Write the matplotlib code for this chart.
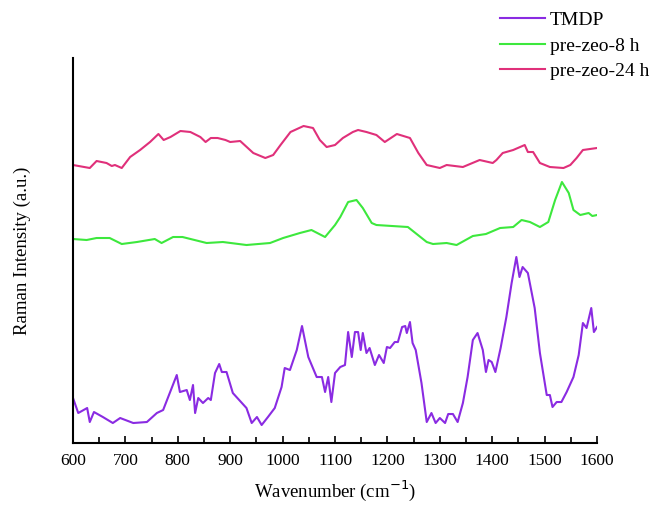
import matplotlib
matplotlib.use("Agg")
import numpy as np
from matplotlib import pyplot as plt
from matplotlib.ticker import MultipleLocator

# wavenumber (cm-1) / intensity (a.u.)
tmdp_x = [600, 610, 627, 632, 640, 657, 676, 690, 715, 741, 760, 772, 798, 804, 817,
          823, 829, 833, 839, 848, 858, 863, 871, 879, 884, 893, 905, 931, 941, 951,
          960, 972, 985, 998, 1004, 1014, 1027, 1037, 1049, 1065, 1075, 1081, 1087,
          1093, 1100, 1110, 1119, 1125, 1132, 1138, 1144, 1149, 1153, 1160, 1166,
          1176, 1184, 1193, 1199, 1205, 1214, 1220, 1228, 1234, 1237, 1243, 1248,
          1254, 1265, 1275, 1284, 1292, 1300, 1310, 1316, 1325, 1334, 1344, 1353,
          1363, 1372, 1382, 1388, 1393, 1399, 1406, 1416, 1427, 1437, 1446, 1452,
          1458, 1468, 1481, 1491, 1504, 1510, 1515, 1523, 1532, 1542, 1555, 1565,
          1573, 1580, 1589, 1594, 1600]
tmdp_y = [45, 30, 35, 21, 31, 26, 20, 25, 20, 21, 30, 33, 68, 51, 53,
          43, 58, 30, 45, 40, 45, 43, 70, 79, 71, 71, 50, 35, 20, 26,
          18, 26, 35, 56, 75, 73, 93, 117, 86, 66, 66, 51, 66,
          41, 70, 76, 78, 111, 86, 111, 111, 93, 110, 90, 95,
          78, 88, 80, 96, 95, 101, 101, 116, 117, 110, 121, 100,
          93, 60, 21, 30, 20, 25, 20, 29, 29, 21, 40, 66,
          103, 110, 93, 71, 83, 81, 71, 95, 126, 160, 186, 166,
          176, 170, 135, 90, 48, 48, 36, 41, 41, 51, 66, 88,
          120, 115, 135, 111, 116]

pz8_x = [600, 626, 645, 670, 693, 722, 756, 769, 791, 809, 855, 886, 931, 976, 1001,
         1033, 1055, 1081, 1100, 1110, 1125, 1141, 1153, 1170, 1179, 1239, 1275,
         1287, 1313, 1332, 1363, 1388, 1415, 1440, 1456, 1472, 1491, 1507, 1520,
         1533, 1546, 1555, 1568, 1584, 1591, 1600]
pz8_y = [204, 203, 205, 205, 199, 201, 204, 200, 206, 206, 200, 201, 198, 200, 205,
         210, 213, 206, 218, 226, 241, 243, 235, 220, 218, 216, 201,
         199, 200, 198, 207, 209, 215, 216, 223, 221, 216, 221, 243,
         261, 250, 233, 228, 230, 227, 228]

pz24_x = [600, 632, 645, 664, 674, 680, 693, 709, 728, 747, 763, 773, 786, 805, 824,
          843, 853, 863, 876, 891, 900, 919, 944, 967, 982, 996, 1015, 1040, 1058,
          1071, 1084, 1100, 1115, 1134, 1144, 1160, 1179, 1195, 1218, 1243, 1259,
          1275, 1300, 1313, 1344, 1376, 1401, 1408, 1420, 1440, 1462, 1468, 1478,
          1491, 1510, 1536, 1549, 1561, 1573, 1600]
pz24_y = [278, 275, 282, 280, 277, 278, 275, 286, 293, 301, 309, 303, 306, 312, 311,
          306, 301, 305, 305, 303, 301, 302, 290, 285, 288, 298, 311, 317, 315,
          303, 296, 298, 305, 311, 313, 311, 308, 301, 309, 305, 290,
          278, 275, 278, 276, 283, 280, 283, 290, 293, 298, 291, 291,
          280, 276, 275, 278, 285, 293, 295]

plt.rcParams['font.family'] = ['Liberation Serif', 'DejaVu Serif']

fig = plt.figure(figsize=(6.53, 5.07), dpi=100)
ax = fig.add_axes([0.1118, 0.1262, 0.8025, 0.7594])

l1, = ax.plot(tmdp_x, tmdp_y, color='#8a2be2', lw=1.5, label='TMDP')
l2, = ax.plot(pz8_x, pz8_y, color='#3de83d', lw=1.5, label='pre-zeo-8 h')
l3, = ax.plot(pz24_x, pz24_y, color='#e0307a', lw=1.5, label='pre-zeo-24 h')

ax.set_xlim(600, 1600)
ax.set_ylim(0, 385)
ax.xaxis.set_major_locator(MultipleLocator(100))
ax.xaxis.set_minor_locator(MultipleLocator(50))
ax.tick_params(axis='x', which='major', direction='in', length=5, width=1.2,
               labelsize=12.5, pad=7)
ax.tick_params(axis='x', which='minor', direction='in', length=4, width=1.2)
ax.set_yticks([])
for s in ['top', 'right']:
    ax.spines[s].set_visible(False)
for s in ['left', 'bottom']:
    ax.spines[s].set_linewidth(1.5)

ax.set_xlabel('Wavenumber (cm$^{-1}$)', fontsize=13.5, labelpad=7)
ax.set_ylabel('Raman Intensity (a.u.)', fontsize=13.5, labelpad=30)

fig.legend(handles=[l1, l2, l3], loc='upper right', bbox_to_anchor=(1.012, 1.0),
           frameon=False, fontsize=14, handlelength=2.3, handletextpad=0.25,
           labelspacing=0.4, borderaxespad=0.2)

fig.savefig('out.png', dpi=100)
